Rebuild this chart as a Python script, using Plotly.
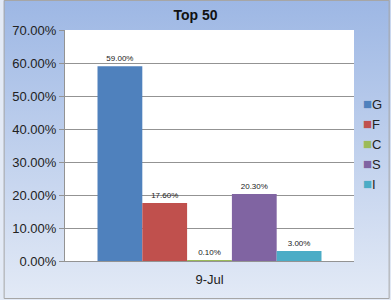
import base64
import plotly.graph_objects as go

categories = ["9-Jul"]
series_names = ["G", "F", "C", "S", "I"]
series_values = [0.59, 0.176, 0.001, 0.203, 0.03]
series_colors = ["#4F81BD", "#C0504D", "#9BBB59", "#8064A2", "#4BACC6"]
y_ticks = [0, 0.1, 0.2, 0.3, 0.4, 0.5, 0.6, 0.7]

W, H = 391, 300
ml, mr, mt, mb = 62, 37, 30, 39
pw, ph = W - ml - mr, H - mt - mb

fig = go.Figure()
for name, val, col in zip(series_names, series_values, series_colors):
    fig.add_trace(go.Bar(
        x=categories, y=[val], name=name, marker_color=col, marker_line_width=0,
        text=[f"{val:.2%}"], textposition="outside", cliponaxis=False,
        textfont=dict(size=8, color="#222", family="Liberation Sans"),
        showlegend=False,
    ))

svg = (f'<svg xmlns="http://www.w3.org/2000/svg" width="{W}" height="{H}">'
       '<defs><linearGradient id="g" x1="0" y1="0" x2="0" y2="1">'
       '<stop offset="0" stop-color="#9DB7E4"/><stop offset="1" stop-color="#E3EAF6"/>'
       '</linearGradient></defs>'
       f'<rect width="{W}" height="{H}" fill="url(#g)"/></svg>')
src = "data:image/svg+xml;base64," + base64.b64encode(svg.encode()).decode()

fig.add_layout_image(dict(source=src, xref="paper", yref="paper",
                          x=-ml / pw, y=1 + mt / ph, sizex=W / pw, sizey=H / ph,
                          xanchor="left", yanchor="top", sizing="stretch", layer="below"))
fig.add_shape(type="rect", xref="paper", yref="paper", x0=0, x1=1, y0=0, y1=1,
              fillcolor="white", line_width=0, layer="below")
fig.add_shape(type="rect", xref="paper", yref="paper",
              x0=-ml / pw + 0.5 / pw, x1=1 + (mr - 1.5) / pw,
              y0=-(mb - 1.5) / ph, y1=1 + (mt - 0.5) / ph,
              line=dict(color="#A6A6A6", width=1), fillcolor="rgba(0,0,0,0)", layer="above")

# legend as annotations built from series
for i, (name, col) in enumerate(zip(series_names, series_colors)):
    fig.add_annotation(xref="paper", yref="paper", x=(361 - ml) / pw,
                       y=1 - (103 + 20 * i - mt) / ph, xanchor="left", yanchor="middle",
                       text=f'<span style="color:{col};font-size:15px">■</span>{name}',
                       showarrow=False, font=dict(size=13, color="#222", family="Liberation Sans"))

fig.update_layout(
    width=W, height=H, margin=dict(l=ml, r=mr, t=mt, b=mb),
    paper_bgcolor="#E3EAF6", plot_bgcolor="rgba(0,0,0,0)",
    barmode="group", bargap=0.225, bargroupgap=0,
    title=dict(text="<b>Top 50</b>", x=0.5, xref="container", xanchor="center",
               y=1 - 15 / H, yanchor="middle",
               font=dict(size=14, color="#111", family="Liberation Sans")),
    font=dict(family="Liberation Sans", color="#222"),
)
fig.update_yaxes(range=[0, 0.7], tickvals=y_ticks, tickformat=".2%",
                 showgrid=True, gridcolor="#939393", gridwidth=1,
                 showline=True, linecolor="#939393", ticks="outside", ticklen=5,
                 tickcolor="#939393", tickfont=dict(size=13, color="#222"),
                 zeroline=False)
fig.update_xaxes(showline=True, linecolor="#939393", ticks="", ticklabelstandoff=6,
                 tickfont=dict(size=13, color="#222"))

fig.write_html("out.html")
